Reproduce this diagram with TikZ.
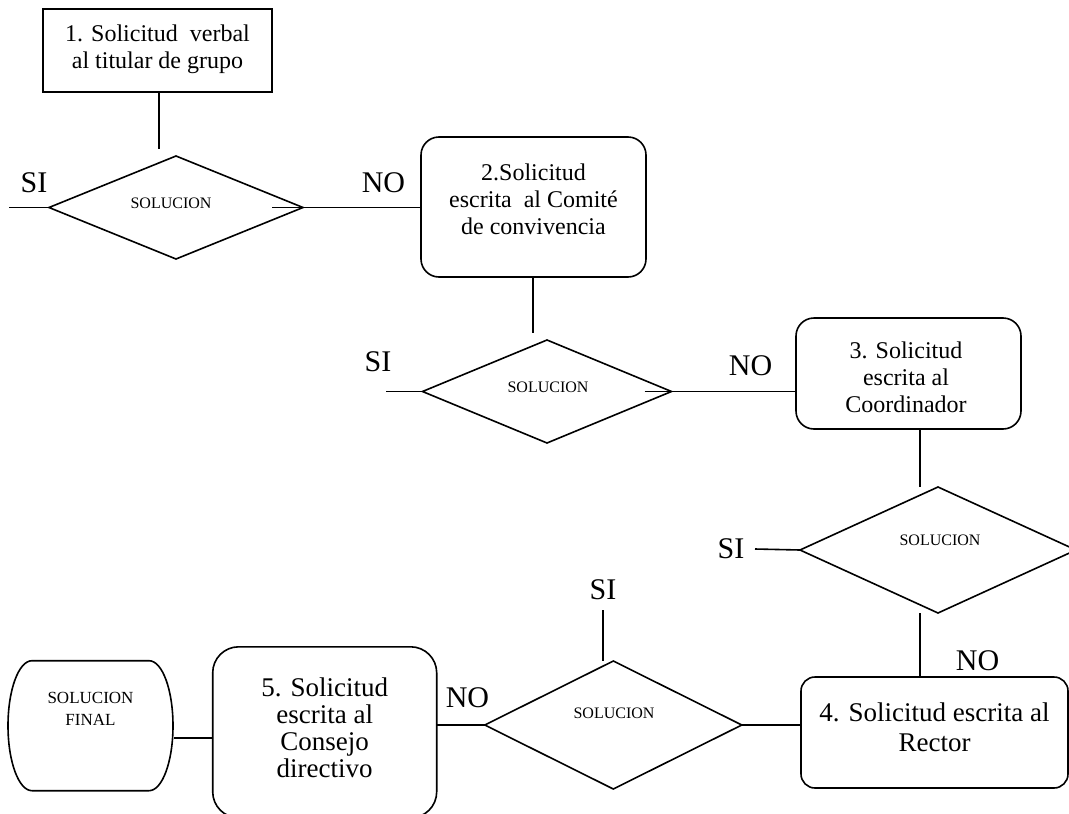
\documentclass[tikz,border=0pt]{standalone}
\usepackage{fontspec}
\setmainfont{Liberation Serif}
\usetikzlibrary{shapes.geometric,calc}
\begin{document}
\begin{tikzpicture}[x=1pt,y=-1pt,line width=1.6pt,
  frame/.style={draw,inner sep=0pt,outer sep=0pt},
  rbox/.style={frame,rounded corners=#1},
  dia/.style={draw,diamond,inner sep=0pt,outer sep=0pt},
  txt/.style={align=center,inner sep=0pt,font=\fontsize{24}{27}\selectfont},
  small/.style={inner sep=0pt,font=\fontsize{16}{19}\selectfont},
  lab/.style={inner sep=0pt,font=\fontsize{30}{32}\selectfont}]
\useasboundingbox (0,0) rectangle (1069,814);
% helper coordinates
\coordinate (x1) at (159,0);
\coordinate (x2) at (533,0);
\coordinate (x3) at (920,0);
\coordinate (x4) at (603,0);
\coordinate (y5) at (0,737.7);
% boxes
\node[frame,minimum width=229pt,minimum height=83pt] (b1) at (157.5,50.5) {};
\node[txt] (t1) at (157.5,49) {1. Solicitud\ \ verbal\\al titular de grupo};
\node[rbox=18pt,minimum width=225pt,minimum height=140pt] (b2) at (533.5,207) {};
\node[txt] (t2) at (533.5,199.5) {2.Solicitud\\escrita\ \ al Comité\\de convivencia};
\node[rbox=18pt,minimum width=225pt,minimum height=111pt] (b3) at (908.5,373.5) {};
\node[txt] (t3) at (906,377) {3. Solicitud\\escrita al\\Coordinador};
\node[rbox=14pt,minimum width=267pt,minimum height=111pt] (b4) at (934.5,732.5) {};
\node[txt,font=\fontsize{27}{30}\selectfont] (t4) at (934.5,727) {4. Solicitud escrita al\\Rector};
\node[rbox=26pt,minimum width=224pt,minimum height=171pt] (b5) at (324.7,732.3) {};
\node[txt,font=\fontsize{27}{27}\selectfont] (t5) at (324.7,728) {5. Solicitud\\escrita al\\Consejo\\directivo};
% terminal
\node[inner sep=0pt,minimum width=165pt,minimum height=130pt] (term) at (90.5,725.7) {};
\draw (32,660.7) -- (149,660.7) .. controls (162.3,660.7) and (173,689.8) .. (173,725.7)
  .. controls (173,761.6) and (162.3,790.7) .. (149,790.7) -- (32,790.7)
  .. controls (18.7,790.7) and (8,761.6) .. (8,725.7)
  .. controls (8,689.8) and (18.7,660.7) .. (32,660.7) -- cycle;
\node[align=center,inner sep=0pt,font=\fontsize{17}{22}\selectfont] (tt) at (90.5,709) {SOLUCION\\FINAL};
% diamonds
\node[dia,minimum width=254pt,minimum height=103pt] (d1) at (176,207.5) {};
\node[small] (s1) at (171,203) {SOLUCION};
\node[dia,minimum width=249pt,minimum height=103pt] (d2) at (547,391.5) {};
\node[small] (s2) at (548,387) {SOLUCION};
\node[dia,minimum width=276pt,minimum height=126pt] (d3) at (938,550) {};
\node[small] (s3) at (940,540) {SOLUCION};
\node[dia,minimum width=257pt,minimum height=128pt] (d4) at (613.3,725) {};
\node[small] (s4) at (614,713) {SOLUCION};
% labels
\node[lab] (si1) at (34,183) {SI};
\node[lab] (no1) at (383.5,182.5) {NO};
\node[lab] (si2) at (378,362) {SI};
\node[lab] (no2) at (750.5,366) {NO};
\node[lab] (si3) at (731,549) {SI};
\node[lab] (no3) at (977.5,661) {NO};
\node[lab] (si4) at (603,590) {SI};
\node[lab] (no4) at (467.5,697.5) {NO};
% free ends
\coordinate (e1) at (9,207.5);
\coordinate (e2) at (386,391.5);
\coordinate (e3) at (755,549);
\coordinate (e4) at (603,610);
% connectors
\draw (b1.south -| x1) -- ($(d1.north -| x1)+(0,-7)$);
\draw (e1) -- (d1.west);
\draw ($(d1.east)+(-31,0)$) -- (d1.east -| b2.west);
\draw (b2.south -| x2) -- ($(d2.north -| x2)+(0,-7)$);
\draw (e2) -- (d2.west);
\draw ($(d2.east)+(-27,0)$) -- (d2.east -| b3.west);
\draw (b3.south -| x3) -- (d3.north -| x3);
\draw (e3) -- (d3.west);
\draw (d3.south -| x3) -- (b4.north -| x3);
\draw (b4.west |- d4.east) -- (d4.east);
\draw (e4) -- (d4.north -| x4);
\draw (d4.west) -- (d4.west -| b5.east);
\draw (term.east |- y5) -- (b5.west |- y5);
\end{tikzpicture}
\end{document}
